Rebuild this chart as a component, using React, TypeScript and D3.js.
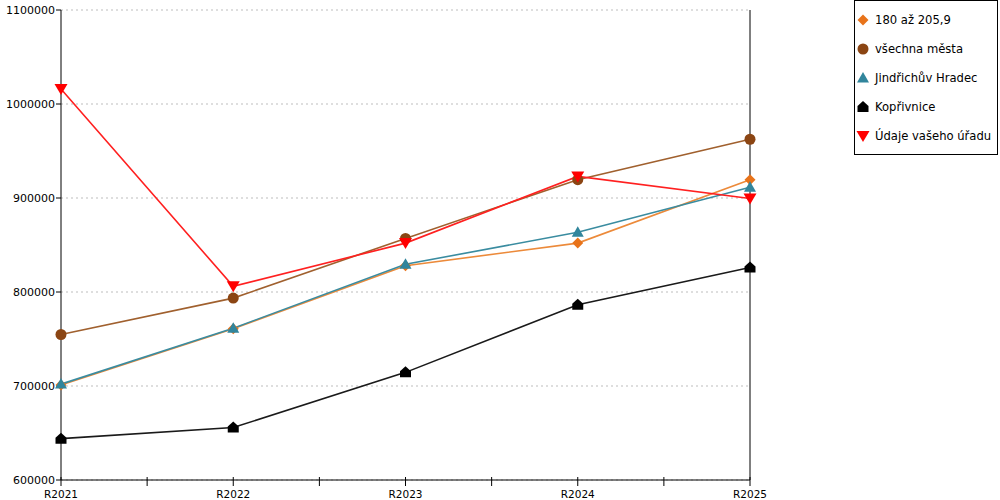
import * as d3 from "d3";

const YEARS = ["R2021", "R2022", "R2023", "R2024", "R2025"];

const SERIES_NAMES = [
  "180 až 205,9",
  "všechna města",
  "Jindřichův Hradec",
  "Kopřivnice",
  "Údaje vašeho úřadu",
];

const SERIES_COLORS = ["#e8731a", "#8b4513", "#31859c", "#000000", "#ff0000"];
const LINE_COLORS = ["#ec8a3a", "#a0602e", "#3a8ca0", "#1a1a1a", "#ff2020"];
const SERIES_SHAPES = ["diamond", "circle", "triangle", "house", "down"];

const ORANGE = [701000, 761000, 828000, 852000, 919500];
const BROWN = [754800, 793500, 857000, 919500, 962500];
const TEAL = [702000, 761500, 829500, 863500, 911500];
const BLACK = [644000, 655800, 714500, 786500, 826000];
const RED = [1016000, 806000, 852000, 923000, 899500];

const SERIES_VALUES = [ORANGE, BROWN, TEAL, BLACK, RED];

const Y_TICKS = [600000, 700000, 800000, 900000, 1000000, 1100000];

const W = 1000;
const H = 500;
const M = { top: 10, left: 61, right: 250, bottom: 20 };

// marker outlines, centred on (x, y)
const marker = (shape: string, x: number, y: number) => {
  switch (shape) {
    case "diamond":
      return `M${x},${y - 5.5}L${x + 5.5},${y}L${x},${y + 5.5}L${x - 5.5},${y}Z`;
    case "triangle":
      return `M${x},${y - 6}L${x + 6},${y + 4.5}L${x - 6},${y + 4.5}Z`;
    case "down":
      return `M${x - 6.5},${y - 5}L${x + 6.5},${y - 5}L${x},${y + 6}Z`;
    default:
      return `M${x},${y - 6}L${x + 5.5},${y - 1}L${x + 5.5},${y + 5}L${x - 5.5},${y + 5}L${x - 5.5},${y - 1}Z`;
  }
};

export default function App() {
  const x = d3
    .scalePoint<string>()
    .domain(YEARS)
    .range([M.left, W - M.right]);
  const y = d3
    .scaleLinear()
    .domain([600000, 1100000])
    .range([H - M.bottom, M.top]);

  const line = d3
    .line<number>()
    .x((_, i) => x(YEARS[i])!)
    .y((d) => y(d));

  const step = x.step();
  const midTicks = YEARS.slice(1).map((yr) => x(yr)! - step / 2);

  return (
    <svg
      width={W}
      height={H}
      style={{ position: "absolute", left: 0, top: 0, background: "#fff" }}
      fontFamily="DejaVu Sans, Verdana, sans-serif"
    >
      {/* grid */}
      {Y_TICKS.map((t) => (
        <line
          key={"g" + t}
          x1={M.left}
          x2={W - M.right}
          y1={y(t)}
          y2={y(t)}
          stroke="#bdbdbd"
          strokeDasharray="2,3"
        />
      ))}

      {/* y axis + right frame line */}
      <line x1={M.left} x2={M.left} y1={M.top} y2={H - M.bottom} stroke="#000" />
      <line
        x1={W - M.right}
        x2={W - M.right}
        y1={M.top}
        y2={H - M.bottom}
        stroke="#000"
      />
      {Y_TICKS.map((t) => (
        <g key={"y" + t}>
          <line x1={M.left - 5} x2={M.left} y1={y(t)} y2={y(t)} stroke="#000" />
          <text
            x={M.left - 6}
            y={y(t)}
            dy="0.35em"
            textAnchor="end"
            fontSize={11}
            fill="#000"
          >
            {t}
          </text>
        </g>
      ))}

      {/* x axis */}
      <line
        x1={M.left}
        x2={W - M.right}
        y1={H - M.bottom}
        y2={H - M.bottom}
        stroke="#000"
      />
      {[...YEARS.map((yr) => x(yr)!), ...midTicks].map((px) => (
        <line
          key={"xt" + px}
          x1={px}
          x2={px}
          y1={H - M.bottom - 3}
          y2={H - M.bottom + 6}
          stroke="#000"
        />
      ))}
      {YEARS.map((yr) => (
        <text
          key={"xl" + yr}
          x={x(yr)}
          y={H - 2}
          textAnchor="middle"
          fontSize={10.5}
          fill="#000"
        >
          {yr}
        </text>
      ))}

      {/* lines */}
      {SERIES_VALUES.map((vals, si) => (
        <path
          key={"l" + si}
          d={line(vals)!}
          fill="none"
          stroke={LINE_COLORS[si]}
          strokeWidth={1.6}
        />
      ))}

      {/* markers */}
      {SERIES_VALUES.map((vals, si) =>
        vals.map((v, i) =>
          SERIES_SHAPES[si] === "circle" ? (
            <circle
              key={`m${si}-${i}`}
              cx={x(YEARS[i])}
              cy={y(v)}
              r={5.5}
              fill={SERIES_COLORS[si]}
            />
          ) : (
            <path
              key={`m${si}-${i}`}
              d={marker(SERIES_SHAPES[si], x(YEARS[i])!, y(v))}
              fill={SERIES_COLORS[si]}
            />
          )
        )
      )}

      {/* legend */}
      <rect x={854.5} y={0.5} width={143} height={154} fill="#fff" stroke="#000" />
      {SERIES_NAMES.map((name, si) => {
        const ly = 20 + si * 29;
        return (
          <g key={"lg" + si}>
            {SERIES_SHAPES[si] === "circle" ? (
              <circle cx={863} cy={ly} r={5.5} fill={SERIES_COLORS[si]} />
            ) : (
              <path d={marker(SERIES_SHAPES[si], 863, ly)} fill={SERIES_COLORS[si]} />
            )}
            <text x={875} y={ly} dy="0.35em" fontSize={11.6} fill="#000">
              {name}
            </text>
          </g>
        );
      })}
    </svg>
  );
}
